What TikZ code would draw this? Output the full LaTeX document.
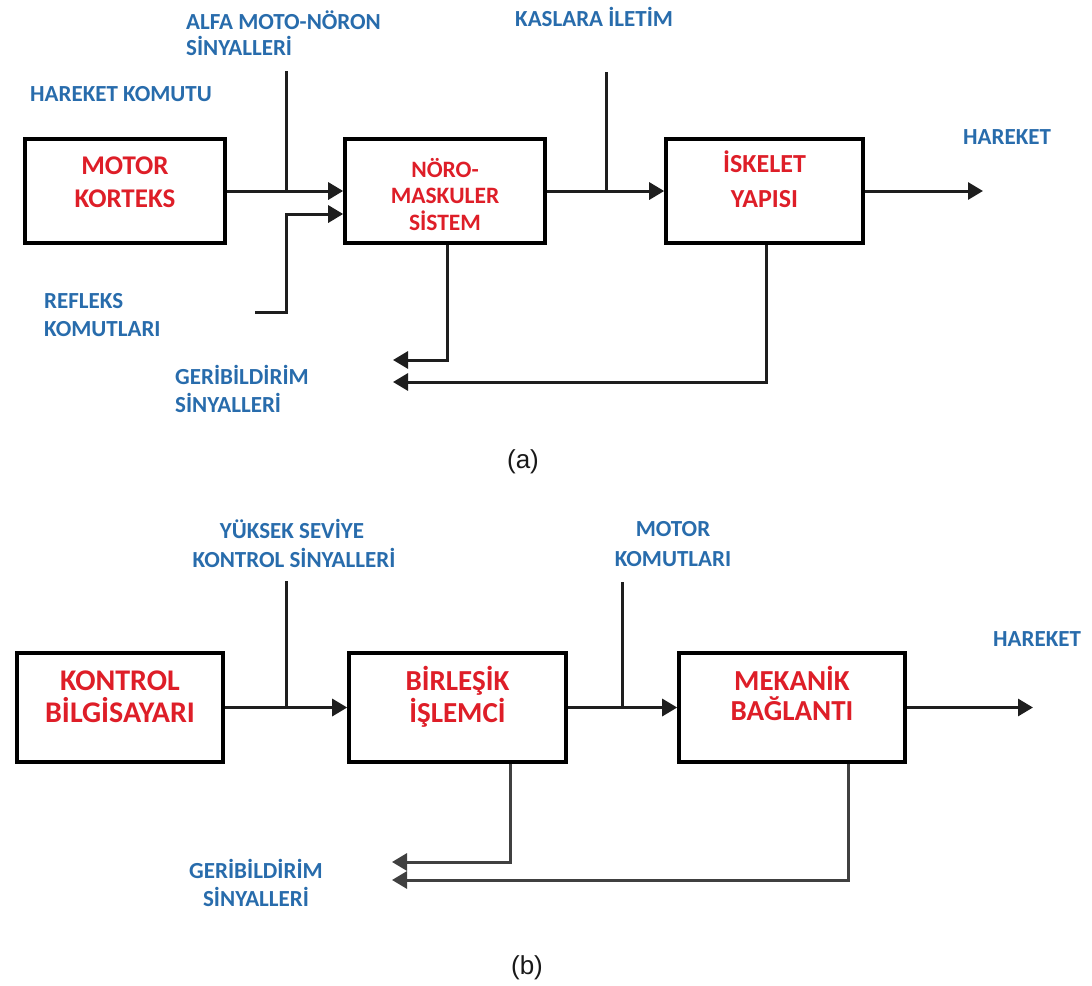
\documentclass[tikz,border=0pt]{standalone}
\usepackage{fontspec}
\setmainfont{Carlito}
\newfontfamily\capfont{Liberation Sans}
\usetikzlibrary{arrows.meta,calc}
\definecolor{lblblue}{RGB}{40,108,172}
\definecolor{ttlred}{RGB}{222,30,40}
\definecolor{wirecol}{RGB}{30,30,30}
\tikzset{
  box/.style={draw=black, line width=3.6pt, inner sep=0pt},
  wire/.style={draw=wirecol, line width=3pt, line join=miter},
  conn/.style={wire, -{Triangle[length=15pt,width=17pt]}},
  lbl/.style={text=lblblue, font=\fontsize{23}{27}\selectfont\bfseries, inner sep=0pt},
  ttl/.style={text=ttlred, font=\fontsize{27}{32}\selectfont\bfseries, inner sep=0pt, anchor=base},
  figcap/.style={font=\capfont\fontsize{26}{30}\selectfont, inner sep=0pt, text=black!90},
}
\begin{document}
\begin{tikzpicture}[x=1pt,y=-1pt]
\useasboundingbox (0,0) rectangle (1092,985);
\fill[white] (0,0) rectangle (1092,985);

% ---------------- (a) ----------------
\node[box, minimum width=200pt, minimum height=104pt] (a1) at (125,191) {};
\node[box, minimum width=200pt, minimum height=104pt] (a2) at (445,191) {};
\node[box, minimum width=197pt, minimum height=104pt] (a3) at (764.5,191) {};

\node[ttl] (a1t1) at (125,174) {MOTOR};
\node[ttl] (a1t2) at (125,207) {KORTEKS};
\node[ttl, font=\fontsize{23.5}{28}\selectfont\bfseries] (a2t1) at (445,177) {NÖRO-};
\node[ttl, font=\fontsize{23.5}{28}\selectfont\bfseries] (a2t2) at (445,203) {MASKULER};
\node[ttl, font=\fontsize{23.5}{28}\selectfont\bfseries] (a2t3) at (445,230) {SİSTEM};
\node[ttl, font=\fontsize{26}{30}\selectfont\bfseries] (a3t1) at (764.5,172) {İSKELET};
\node[ttl, font=\fontsize{26}{30}\selectfont\bfseries] (a3t2) at (764.5,207) {YAPISI};

\node[lbl, anchor=base west] (la1) at (30,101) {HAREKET KOMUTU};
\node[lbl, anchor=base west] (la2) at (186,29) {ALFA MOTO-NÖRON};
\node[lbl, anchor=base west] (la3) at (186,55) {SİNYALLERİ};
\node[lbl, anchor=base west] (la4) at (515,26) {KASLARA İLETİM};
\node[lbl, anchor=base west] (la5) at (963,144) {HAREKET};
\node[lbl, anchor=base west] (la6) at (44,308) {REFLEKS};
\node[lbl, anchor=base west] (la7) at (44,336) {KOMUTLARI};
\node[lbl, anchor=base west] (la8) at (175,384) {GERİBİLDİRİM};
\node[lbl, anchor=base west] (la9) at (175,412) {SİNYALLERİ};

\coordinate (alfaTop) at (286,71);
\coordinate (kasTop) at (606,72);
\coordinate (refS) at (255,312);
\coordinate (refJ) at (286,214);
\coordinate (aOut) at (983,191);
\coordinate (aT1) at (393,360);
\coordinate (aT2) at (393,382);

\draw[conn] (a1.east) -- (a2.west);
\draw[wire] (alfaTop) -- (alfaTop |- a1.east);
\draw[conn] (refS) -| (refJ) -- (refJ -| a2.west);
\draw[conn] (a2.east) -- (a3.west);
\draw[wire] (kasTop) -- (kasTop |- a2.east);
\draw[conn] (a3.east) -- (aOut);
\draw[conn] ($(a2.south)+(2,0)$) |- (aT1);
\draw[conn] ($(a3.south)+(2,0)$) |- (aT2);

\node[figcap] (capa) at (523,462) {(a)};

% ---------------- (b) ----------------
\node[box, minimum width=206pt, minimum height=109pt] (b1) at (120,707.5) {};
\node[box, minimum width=217pt, minimum height=109pt] (b2) at (457.5,707.5) {};
\node[box, minimum width=226pt, minimum height=109pt] (b3) at (792,707.5) {};

\node[ttl, font=\fontsize{30}{34}\selectfont\bfseries] (b1t1) at (120,690) {KONTROL};
\node[ttl, font=\fontsize{30}{34}\selectfont\bfseries] (b1t2) at (120,722) {BİLGİSAYARI};
\node[ttl, font=\fontsize{29}{34}\selectfont\bfseries] (b2t1) at (457.5,690) {BİRLEŞİK};
\node[ttl, font=\fontsize{29}{34}\selectfont\bfseries] (b2t2) at (457.5,722) {İŞLEMCİ};
\node[ttl, font=\fontsize{29}{34}\selectfont\bfseries] (b3t1) at (792,690) {MEKANİK};
\node[ttl, font=\fontsize{29}{34}\selectfont\bfseries] (b3t2) at (792,720) {BAĞLANTI};

\node[lbl, anchor=base] (lb1) at (292,538) {YÜKSEK SEVİYE};
\node[lbl, anchor=base] (lb2) at (294,567) {KONTROL SİNYALLERİ};
\node[lbl, anchor=base] (lb3) at (673,536) {MOTOR};
\node[lbl, anchor=base] (lb4) at (673,566) {KOMUTLARI};
\node[lbl, anchor=base west] (lb5) at (993,646) {HAREKET};
\node[lbl, anchor=base] (lb6) at (256,878) {GERİBİLDİRİM};
\node[lbl, anchor=base] (lb7) at (256,906) {SİNYALLERİ};

\coordinate (ykTop) at (286,581);
\coordinate (mkTop) at (622,582);
\coordinate (bOut) at (1033,707.5);
\coordinate (bV1) at (510,0);
\coordinate (bV2) at (848,0);
\coordinate (bT1) at (392,862);
\coordinate (bT2) at (392,880);

\draw[conn] (b1.east) -- (b2.west);
\draw[wire] (ykTop) -- (ykTop |- b1.east);
\draw[conn] (b2.east) -- (b3.west);
\draw[wire] (mkTop) -- (mkTop |- b2.east);
\draw[conn] (b3.east) -- (bOut);
\draw[conn, draw=black!75] (b2.south -| bV1) |- (bT1);
\draw[conn, draw=black!75] (b3.south -| bV2) |- (bT2);

\node[figcap] (capb) at (527,968) {(b)};
\end{tikzpicture}
\end{document}
